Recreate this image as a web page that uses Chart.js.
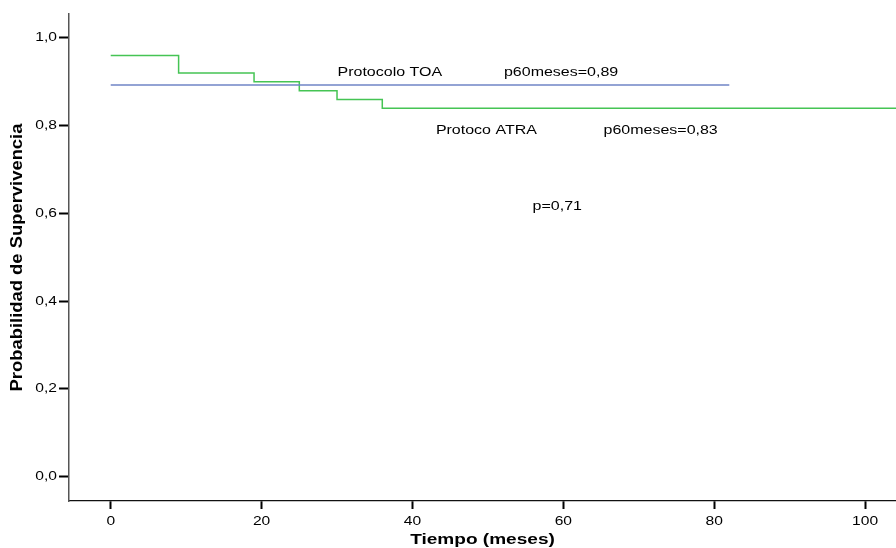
<!DOCTYPE html>
<html>
<head>
<meta charset="utf-8">
<script src="https://cdn.jsdelivr.net/npm/chart.js@4.4.1/dist/chart.umd.min.js"></script>
<style>
  html, body { margin: 0; padding: 0; background: #ffffff; }
  #wrap { width: 896px; height: 548px; }
</style>
</head>
<body>
<div id="wrap"><canvas id="c" width="896" height="548"></canvas></div>
<script>
// ---- data ----
const atraTime = [0, 9, 19, 25, 30, 36, 104.2];
const atraSurv = [0.96, 0.92, 0.90, 0.88, 0.86, 0.84, 0.84];
const toaTime = [0, 82];
const toaSurv = [0.893, 0.893];
const xTickValues = [0, 20, 40, 60, 80, 100];
const yTickValues = [0, 0.2, 0.4, 0.6, 0.8, 1.0];
const annotationTexts = ["Protocolo TOA", "p60meses=0,89", "Protoco ATRA", "p60meses=0,83", "p=0,71"];

// horizontal glyph stretch to mimic the wide rendering of the original export
function stretchFor(font) {
  if (/16px/.test(font)) return 1.15;
  if (/15px/.test(font)) return 1.27;
  if (/13px/.test(font)) return 1.23;
  return 1.3;
}

const textStretch = {
  id: 'textStretch',
  beforeInit(chart) {
    const ctx = chart.ctx;
    const orig = CanvasRenderingContext2D.prototype.fillText;
    ctx.fillText = function (text, x, y, maxWidth) {
      const s = stretchFor(this.font);
      this.save();
      this.translate(x, y);
      this.scale(s, 1);
      if (maxWidth !== undefined && maxWidth !== null) orig.call(this, text, 0, 0, maxWidth / s);
      else orig.call(this, text, 0, 0);
      this.restore();
    };
  }
};

const annotations = {
  id: 'annotations',
  afterDatasetsDraw(chart) {
    const { ctx, scales: { x, y } } = chart;
    const spots = [
      [37.0, 0.921],
      [59.7, 0.921],
      [49.8, 0.790],
      [72.9, 0.790],
      [59.2, 0.615]
    ];
    ctx.save();
    ctx.font = '13px "Liberation Sans", Arial, sans-serif';
    ctx.fillStyle = '#000';
    ctx.textAlign = 'center';
    ctx.textBaseline = 'middle';
    annotationTexts.forEach((t, i) => {
      ctx.fillText(t, x.getPixelForValue(spots[i][0]), y.getPixelForValue(spots[i][1]));
    });
    ctx.restore();
  }
};

const atraData = atraTime.map((t, i) => ({ x: t, y: atraSurv[i] }));
const toaData = toaTime.map((t, i) => ({ x: t, y: toaSurv[i] }));

new Chart(document.getElementById('c'), {
  type: 'line',
  data: {
    datasets: [
      { label: 'Protocolo TOA', data: toaData, borderColor: '#6f84c6', borderWidth: 1.5, pointRadius: 0, stepped: true, fill: false },
      { label: 'Protoco ATRA', data: atraData, borderColor: '#45c454', borderWidth: 1.5, pointRadius: 0, stepped: true, fill: false }
    ]
  },
  options: {
    responsive: false,
    animation: false,
    layout: { padding: { top: 14, right: 0, left: 0, bottom: 0 } },
    plugins: { legend: { display: false }, tooltip: { enabled: false } },
    scales: {
      x: {
        type: 'linear',
        min: -5.53,
        max: 104.1,
        afterBuildTicks(scale) { scale.ticks = xTickValues.map(v => ({ value: v })); },
        afterFit(scale) { scale.height = 47; },
        grid: { display: true, drawOnChartArea: false, drawTicks: true, tickLength: 8, color: '#000', tickWidth: 2 },
        border: { display: true, color: '#111', width: 1.3 },
        ticks: {
          color: '#000',
          font: { family: '"Liberation Sans", Arial, sans-serif', size: 12 },
          padding: 5,
          maxRotation: 0,
          autoSkip: false,
          callback: (v) => String(v)
        },
        title: {
          display: true,
          text: 'Tiempo (meses)',
          color: '#000',
          font: { family: '"Liberation Sans", Arial, sans-serif', size: 15, weight: 'bold', lineHeight: 1.0 },
          padding: { top: 0, bottom: 1 }
        }
      },
      y: {
        type: 'linear',
        min: -0.0554,
        max: 1.0547,
        afterBuildTicks(scale) { scale.ticks = yTickValues.map(v => ({ value: v })); },
        afterFit(scale) { scale.width = 69; },
        grid: { display: true, drawOnChartArea: false, drawTicks: true, tickLength: 10, color: '#000', tickWidth: 2 },
        border: { display: true, color: '#555', width: 1.5 },
        ticks: {
          color: '#000',
          font: { family: '"Liberation Sans", Arial, sans-serif', size: 12 },
          padding: 2,
          autoSkip: false,
          callback: (v) => Number(v).toFixed(1).replace('.', ',')
        },
        title: {
          display: true,
          text: 'Probabilidad de Supervivencia',
          color: '#000',
          font: { family: '"Liberation Sans", Arial, sans-serif', size: 16, weight: 'bold', lineHeight: 1.0 },
          padding: { top: 10, bottom: 0 }
        }
      }
    }
  },
  plugins: [textStretch, annotations]
});
</script>
</body>
</html>
